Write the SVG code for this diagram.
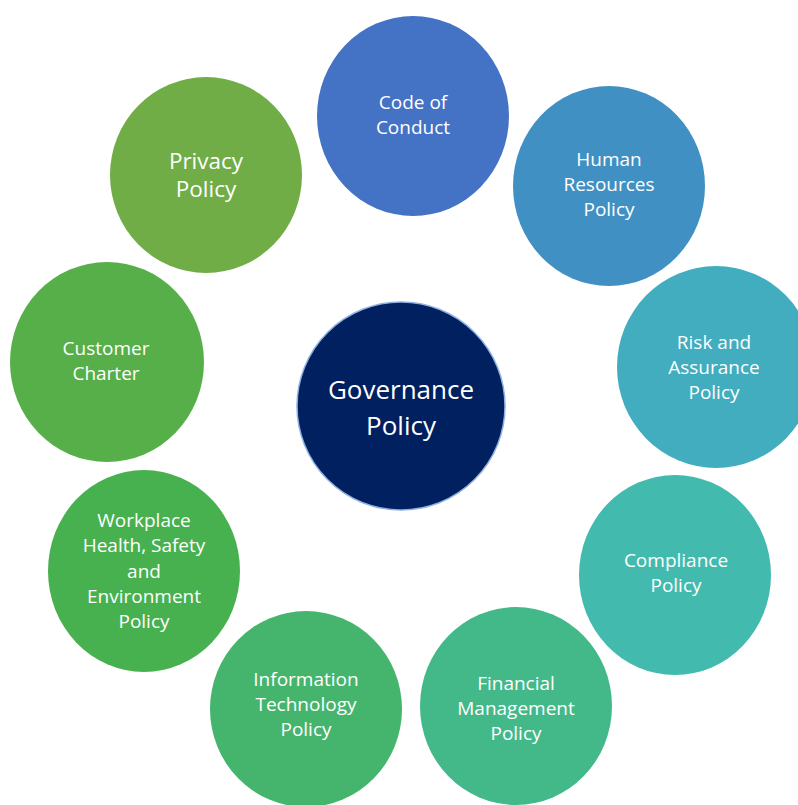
<svg xmlns="http://www.w3.org/2000/svg" width="798" height="805" viewBox="0 0 798 805">
  <style>
    .lbl { font-family: "Open Sans", "Noto Sans", "Liberation Sans", sans-serif; fill: #ffffff; text-anchor: middle; font-size: 19px; }
    .big { font-size: 22.5px; }
    .core { font-size: 26px; }
  </style>
  <rect width="798" height="805" fill="#ffffff"/>
  <g id="connectors"></g>

  <g id="code-of-conduct">
    <ellipse cx="413" cy="116" rx="96" ry="100" fill="#4472c4"/>
    <text class="lbl" x="413" y="109">Code of</text>
    <text class="lbl" x="413" y="134">Conduct</text>
  </g>

  <g id="human-resources">
    <ellipse cx="609" cy="186" rx="96" ry="100" fill="#4190c3"/>
    <text class="lbl" x="609" y="166">Human</text>
    <text class="lbl" x="609" y="191">Resources</text>
    <text class="lbl" x="609" y="216">Policy</text>
  </g>

  <g id="risk-and-assurance">
    <ellipse cx="716" cy="367" rx="99" ry="101" fill="#41adbf"/>
    <text class="lbl" x="714" y="349">Risk and</text>
    <text class="lbl" x="714" y="374">Assurance</text>
    <text class="lbl" x="714" y="399">Policy</text>
  </g>

  <g id="compliance">
    <ellipse cx="675" cy="575" rx="96" ry="100" fill="#42bbae"/>
    <text class="lbl" x="676" y="567">Compliance</text>
    <text class="lbl" x="676" y="592">Policy</text>
  </g>

  <g id="financial-management">
    <ellipse cx="516" cy="706" rx="96" ry="99" fill="#43b98a"/>
    <text class="lbl" x="516" y="690">Financial</text>
    <text class="lbl" x="516" y="715">Management</text>
    <text class="lbl" x="516" y="740">Policy</text>
  </g>

  <g id="information-technology">
    <ellipse cx="306" cy="709" rx="96" ry="98" fill="#45b56d"/>
    <text class="lbl" x="306" y="686">Information</text>
    <text class="lbl" x="306" y="711">Technology</text>
    <text class="lbl" x="306" y="736">Policy</text>
  </g>

  <g id="workplace-health-safety">
    <ellipse cx="144" cy="571" rx="96" ry="101" fill="#47b14f"/>
    <text class="lbl" x="144" y="527">Workplace</text>
    <text class="lbl" x="144" y="552">Health, Safety</text>
    <text class="lbl" x="144" y="578">and</text>
    <text class="lbl" x="144" y="603">Environment</text>
    <text class="lbl" x="144" y="628">Policy</text>
  </g>

  <g id="customer-charter">
    <ellipse cx="107" cy="362" rx="97" ry="100" fill="#56af48"/>
    <text class="lbl" x="106" y="355">Customer</text>
    <text class="lbl" x="106" y="380">Charter</text>
  </g>

  <g id="privacy-policy">
    <ellipse cx="206" cy="175" rx="96" ry="98" fill="#70ad47"/>
    <text class="lbl big" x="206" y="169">Privacy</text>
    <text class="lbl big" x="206" y="197">Policy</text>
  </g>

  <g id="governance-policy">
    <ellipse cx="401" cy="406" rx="104" ry="104" fill="#002060" stroke="#8fb0e0" stroke-width="1.5"/>
    <text class="lbl core" x="401" y="399">Governance</text>
    <text class="lbl core" x="401" y="435">Policy</text>
  </g>
</svg>
